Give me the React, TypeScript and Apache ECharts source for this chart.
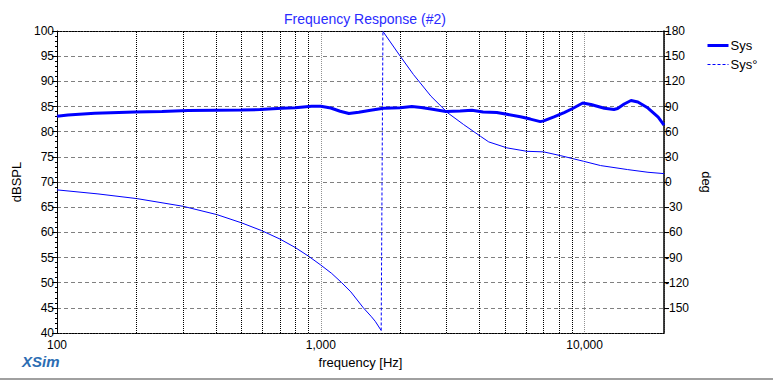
import React, { useEffect, useRef } from "react";
import * as echarts from "echarts";

const magFreq = [100, 110, 139, 160, 197, 250, 314, 400, 500, 588, 711, 800, 923, 1000, 1091, 1184, 1278, 1393, 1545, 1730, 2000, 2215, 2400, 2617, 2979, 3375, 3740, 4123, 4647, 5074, 5711, 6230, 6796, 6995, 7654, 8366, 9010, 9840, 10570, 11880, 12920, 13340, 14130, 15000, 15920, 17390, 19010, 20000];
const magDb = [83.05, 83.3, 83.65, 83.75, 83.9, 84.0, 84.2, 84.25, 84.3, 84.4, 84.65, 84.75, 85.05, 85.05, 84.7, 84.05, 83.6, 83.85, 84.25, 84.65, 84.75, 85.0, 84.8, 84.5, 84.0, 84.1, 84.25, 83.9, 83.8, 83.45, 82.95, 82.5, 82.0, 82.15, 82.95, 83.8, 84.6, 85.7, 85.4, 84.65, 84.4, 84.6, 85.5, 86.2, 85.9, 84.7, 82.9, 81.3];

const phaseLowFreq = [100, 143, 201, 301, 404, 502, 597, 700, 799, 899, 1000, 1100, 1200, 1300, 1450, 1550, 1608, 1694];
const phaseLowDeg = [-9.4, -14.2, -19.8, -29.0, -38.9, -48.8, -58.0, -68.0, -78.0, -88.5, -99, -109, -120, -131, -150, -160, -166, -177];
const phaseHighFreq = [1720, 2000, 2245, 2617, 3029, 3478, 4029, 4331, 5074, 6040, 6995, 8085, 9913, 11490, 14560, 17390, 20000];
const phaseHighDeg = [179.5, 150, 128.1, 102.2, 82.4, 68.5, 54.5, 47.8, 40.7, 36.6, 35.9, 31.5, 24.7, 19.6, 14.8, 11.6, 10.0];
const wrapFreq = [1694, 1720];
const wrapDeg = [-177, 179.5];

const minorGridFreq = [200, 300, 400, 500, 600, 700, 800, 900, 2000, 3000, 4000, 5000, 6000, 7000, 8000, 9000];
const decadeLabels = [100, 1000, 10000];

const FONT = "Arial, 'Liberation Sans', sans-serif";

const zip = (xs: number[], ys: number[]) => xs.map((x, i) => [x, ys[i]]);

export default function App() {
  const ref = useRef<HTMLDivElement>(null);
  useEffect(() => {
    if (!ref.current) return;
    const chart = echarts.init(ref.current, undefined, { renderer: "svg" });
    const blue = "#0000ff";
    chart.setOption({
      animation: false,
      backgroundColor: "#ffffff",
      textStyle: { fontFamily: FONT },
      title: {
        text: "Frequency Response (#2)",
        left: 360,
        textAlign: "center",
        top: 7,
        textStyle: { color: "#2a2aff", fontSize: 14, fontWeight: "normal", fontFamily: FONT },
      },
      legend: {
        orient: "vertical",
        left: 706,
        top: 39,
        itemWidth: 21,
        itemHeight: 10,
        itemGap: 6,
        padding: 0,
        textStyle: { color: "#000", fontSize: 13, fontFamily: FONT, padding: [0, 0, 0, -3] },
        data: [
          { name: "Sys", itemStyle: { opacity: 0 }, lineStyle: { width: 3, color: blue, type: "solid" } },
          { name: "Sys°", itemStyle: { opacity: 0 }, lineStyle: { width: 1, color: blue, type: [3, 2] } },
        ],
      },
      grid: { left: 57, right: 109, top: 31, bottom: 48 },
      xAxis: [
        {
          type: "log",
          logBase: 10,
          min: 100,
          max: 20000,
          position: "bottom",
          name: "frequency [Hz]",
          nameLocation: "middle",
          nameGap: 19,
          nameTextStyle: { color: "#000", fontSize: 13, fontFamily: FONT },
          axisLine: { show: true, onZero: false, lineStyle: { color: "#000", width: 1, type: [2, 1] } },
          axisTick: { show: false },
          axisLabel: {
            color: "#000",
            fontSize: 12,
            lineHeight: 12,
            fontFamily: FONT,
            margin: 6,
            showMaxLabel: false,
            formatter: (v: number) => {
              const r = Math.round(v);
              return decadeLabels.includes(r) ? r.toLocaleString("en-US") : "";
            },
          },
          splitLine: { show: true, lineStyle: { color: "#909090", type: [1, 1], width: 1 } },
        },
        {
          type: "log",
          logBase: 10,
          min: 100,
          max: 20000,
          position: "top",
          axisLine: { show: true, onZero: false, lineStyle: { color: "#000", width: 1, type: [2, 1] } },
          axisTick: { show: false },
          axisLabel: { show: false },
          splitLine: { show: false },
        },
      ],
      yAxis: [
        {
          type: "value",
          min: 40,
          max: 100,
          interval: 5,
          position: "left",
          name: "dBSPL",
          nameLocation: "middle",
          nameRotate: 90,
          nameGap: 28,
          nameTextStyle: { color: "#000", fontSize: 13, fontFamily: FONT },
          axisLine: { show: true, onZero: false, lineStyle: { color: "#000", width: 1 } },
          axisTick: { show: true, length: 5, lineStyle: { color: "#000" } },
          minorTick: { show: true, splitNumber: 5, length: 2, lineStyle: { color: "#000" } },
          axisLabel: { color: "#000", fontSize: 12, lineHeight: 12, fontFamily: FONT, margin: 3 },
          splitLine: { show: true, lineStyle: { color: "#808080", type: [4, 3], width: 1 } },
        },
        {
          type: "value",
          min: -180,
          max: 180,
          interval: 30,
          position: "right",
          name: "deg",
          nameLocation: "middle",
          nameRotate: -90,
          nameGap: 30,
          nameTextStyle: { color: "#000", fontSize: 13, fontFamily: FONT },
          axisLine: { show: true, onZero: false, lineStyle: { color: "#000", width: 1.5 } },
          axisTick: { show: true, length: 5, lineStyle: { color: "#000" } },
          axisLabel: { color: "#000", fontSize: 12, lineHeight: 12, fontFamily: FONT, margin: 1, showMinLabel: false },
          splitLine: { show: false },
        },
      ],
      series: [
        {
          name: "grid",
          type: "line",
          xAxisIndex: 0,
          yAxisIndex: 0,
          data: [],
          z: 1,
          silent: true,
          markLine: {
            silent: true,
            symbol: ["none", "none"],
            label: { show: false },
            lineStyle: { color: "#000", type: [1, 1], width: 1, opacity: 1 },
            emphasis: { disabled: true },
            data: minorGridFreq.map((f) => ({ xAxis: f })),
          },
        },
        {
          name: "Sys",
          type: "line",
          xAxisIndex: 0,
          yAxisIndex: 0,
          data: zip(magFreq, magDb),
          showSymbol: false,
          symbol: "none",
          lineStyle: { color: blue, width: 3 },
          itemStyle: { color: blue },
          z: 5,
        },
        {
          name: "Sys°",
          type: "line",
          xAxisIndex: 0,
          yAxisIndex: 1,
          data: zip(phaseLowFreq, phaseLowDeg),
          showSymbol: false,
          symbol: "none",
          lineStyle: { color: blue, width: 1 },
          itemStyle: { color: blue },
          z: 4,
        },
        {
          name: "Sys°",
          type: "line",
          xAxisIndex: 0,
          yAxisIndex: 1,
          data: zip(phaseHighFreq, phaseHighDeg),
          showSymbol: false,
          symbol: "none",
          lineStyle: { color: blue, width: 1 },
          itemStyle: { color: blue },
          z: 4,
        },
        {
          name: "Sys°",
          type: "line",
          xAxisIndex: 0,
          yAxisIndex: 1,
          data: zip(wrapFreq, wrapDeg),
          showSymbol: false,
          symbol: "none",
          lineStyle: { color: blue, width: 1, type: [3, 2] },
          itemStyle: { color: blue },
          z: 4,
        },
      ],
      graphic: [
        {
          type: "text",
          left: 22,
          top: 354,
          style: {
            text: "XSim",
            fill: "#2c6db3",
            font: `italic bold 15px ${FONT}`,
          },
        },
        {
          type: "line",
          shape: { x1: 0, y1: 379, x2: 773, y2: 379 },
          style: { stroke: "#a0a0a0", lineWidth: 2 },
        },
      ],
    });
    return () => chart.dispose();
  }, []);
  return (
    <div
      ref={ref}
      style={{ position: "fixed", left: 0, top: 0, width: 773, height: 381 }}
    />
  );
}
